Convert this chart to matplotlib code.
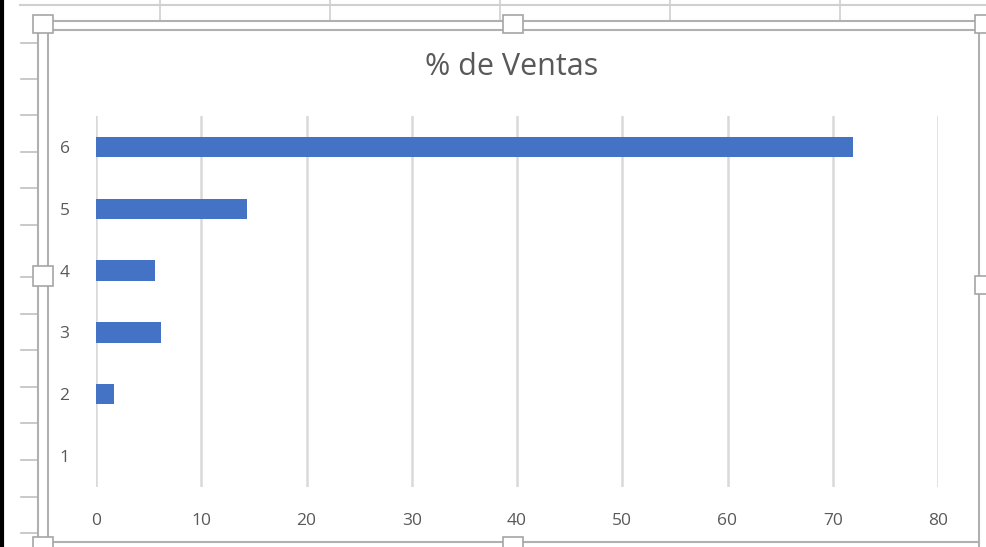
import matplotlib.pyplot as plt
from matplotlib.lines import Line2D
from matplotlib.patches import Rectangle

# datos
categorias = [1, 2, 3, 4, 5, 6]
ventas = [0.0, 1.7, 6.2, 5.6, 14.3, 71.9]
ticks_x = [0, 10, 20, 30, 40, 50, 60, 70, 80]

W, H = 986, 547
gris_txt = '#595959'

fig = plt.figure(figsize=(W / 100, H / 100), dpi=100)
fig.patch.set_facecolor('white')


def linea(x0, y0, x1, y1, color='#c8c8c8', lw=1.5):
    fig.add_artist(Line2D([x0 / W, x1 / W], [1 - y0 / H, 1 - y1 / H],
                          color=color, lw=lw, transform=fig.transFigure))


def manija(x, y, w, h):
    fig.add_artist(Rectangle((x / W, 1 - (y + h) / H), w / W, h / H,
                             facecolor='white', edgecolor='#a6a6a6', lw=1.2,
                             transform=fig.transFigure, zorder=5))


# fondo de la hoja de calculo
linea(1.5, 0, 1.5, H, color='black', lw=3)
linea(20, 5, W, 5, color='#d0d0d0', lw=1.5)
for xc in [160, 330, 500, 670, 840]:
    linea(xc, 0, xc, 20, color='#d0d0d0', lw=1.2)
for yr in [43, 79, 115, 152, 188, 225, 277, 314, 350, 387, 423, 460, 497, 533]:
    linea(21, yr, 38, yr, color='#c0c0c0', lw=1.2)

# marco del grafico
linea(38, 21, 980, 21, color='#b0b0b0')
linea(48, 30, 980, 30, color='#b0b0b0')
linea(38, 21, 38, H, color='#b0b0b0')
linea(48, 30, 48, 542, color='#b0b0b0')
linea(979, 21, 979, H, color='#b0b0b0')
linea(48, 542, 979, 542, color='#b0b0b0')
manija(33, 15, 20, 18)
manija(503, 15, 20, 18)
manija(975, 15, 14, 18)
manija(33, 266, 20, 20)
manija(975, 276, 14, 18)
manija(503, 537, 20, 14)
manija(33, 537, 20, 14)

ax = fig.add_axes([96 / W, 1 - 487 / H, (938 - 96) / W, (487 - 116) / H])
ax.barh(categorias, ventas, height=0.33, color='#4472C4', zorder=3)
ax.set_xlim(0, 80)
ax.set_ylim(0.5, 6.5)
ax.set_xticks(ticks_x)
ax.set_yticks(categorias)
ax.grid(axis='x', color='#d9d9d9', lw=1.8, zorder=0)
for s in ax.spines.values():
    s.set_visible(False)
ax.tick_params(length=0, colors=gris_txt, labelsize=12.5)
ax.tick_params(axis='x', pad=19)
ax.tick_params(axis='y', pad=19)
for lab in ax.get_xticklabels() + ax.get_yticklabels():
    lab.set_family('Open Sans')

fig.text(512 / W, 1 - 67 / H, '% de Ventas', ha='center', va='center',
         fontsize=22, color=gris_txt, family='Open Sans')

plt.savefig('out.png', dpi=100)
